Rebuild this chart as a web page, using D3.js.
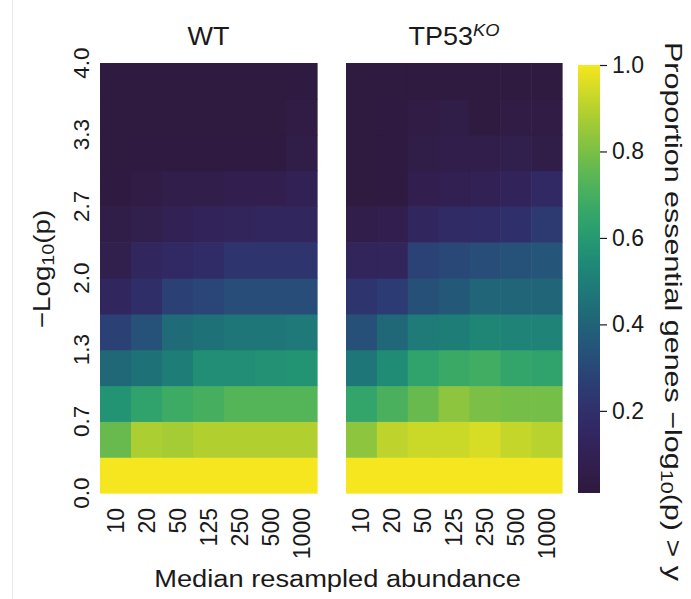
<!DOCTYPE html>
<html>
<head>
<meta charset="utf-8">
<script src="https://cdn.jsdelivr.net/npm/d3@7"></script>
<style>
  html, body { margin: 0; padding: 0; background: #fff; }
  svg { display: block; font-family: "Liberation Sans", Arial, sans-serif; }
</style>
</head>
<body>
<svg id="chart" width="691" height="599"></svg>
<script>
// ---------- data ----------
const abundances = ["10", "20", "50", "125", "250", "500", "1000"];
// row thresholds (-log10 p), bottom to top
const thresholds = [0, 1/3, 2/3, 1, 4/3, 5/3, 2, 7/3, 8/3, 3, 10/3, 11/3];
const yTickValues = [0, 2/3, 4/3, 2, 8/3, 10/3, 4];
const yTickLabels = ["0.0", "0.7", "1.3", "2.0", "2.7", "3.3", "4.0"];
const cbTicks = [0.2, 0.4, 0.6, 0.8, 1.0];
const panelTitles = ["WT", "TP53"];

// proportion values, rows bottom (threshold 0) to top; columns = abundances
const wtValues = [
  [1.00, 1.00, 1.00, 1.00, 1.00, 1.00, 1.00],
  [0.77, 0.88, 0.87, 0.89, 0.89, 0.89, 0.89],
  [0.58, 0.64, 0.68, 0.70, 0.73, 0.73, 0.73],
  [0.42, 0.45, 0.50, 0.56, 0.56, 0.57, 0.58],
  [0.27, 0.34, 0.43, 0.45, 0.47, 0.47, 0.48],
  [0.14, 0.19, 0.27, 0.29, 0.32, 0.32, 0.32],
  [0.07, 0.14, 0.16, 0.18, 0.22, 0.22, 0.22],
  [0.05, 0.07, 0.10, 0.12, 0.13, 0.14, 0.14],
  [0.03, 0.04, 0.06, 0.06, 0.08, 0.08, 0.10],
  [0.02, 0.03, 0.03, 0.03, 0.03, 0.03, 0.05],
  [0.02, 0.02, 0.02, 0.02, 0.02, 0.02, 0.04],
  [0.02, 0.02, 0.02, 0.02, 0.02, 0.02, 0.03]
];
const koValues = [
  [1.00, 1.00, 1.00, 1.00, 1.00, 1.00, 1.00],
  [0.83, 0.91, 0.93, 0.93, 0.95, 0.92, 0.90],
  [0.65, 0.71, 0.77, 0.83, 0.80, 0.79, 0.79],
  [0.47, 0.55, 0.64, 0.67, 0.69, 0.65, 0.64],
  [0.33, 0.42, 0.49, 0.50, 0.53, 0.52, 0.52],
  [0.22, 0.25, 0.33, 0.36, 0.41, 0.41, 0.41],
  [0.13, 0.13, 0.28, 0.30, 0.32, 0.34, 0.35],
  [0.06, 0.08, 0.14, 0.17, 0.18, 0.20, 0.24],
  [0.02, 0.03, 0.08, 0.09, 0.10, 0.12, 0.16],
  [0.02, 0.03, 0.05, 0.06, 0.06, 0.07, 0.05],
  [0.02, 0.03, 0.04, 0.05, 0.02, 0.04, 0.04],
  [0.02, 0.02, 0.02, 0.02, 0.02, 0.02, 0.02]
];

// ---------- colour map (viridis as it appears in the reference) ----------
const cmapStops = ["#2e1a3d", "#342158", "#2f306e", "#29497a", "#206578",
                   "#1d7f78", "#239b73", "#43b060", "#7bbf45", "#b8d22b", "#f6e61f"];
const interp = d3.interpolateRgbBasis(cmapStops);
const vmin = 0.01, vmax = 1.0;
const color = d3.scaleSequential(interp).domain([vmin, vmax]);

// ---------- layout ----------
const svg = d3.select("#chart");
const plotTop = 63, plotBottom = 493;
const panels = [
  { x0: 100, x1: 317, values: wtValues, title: panelTitles[0] },
  { x0: 346, x1: 562, values: koValues, title: panelTitles[1] }
];
const y = d3.scaleLinear().domain([0, 4]).range([plotBottom, plotTop]);
const step = 1 / 3;

// faint border line on left of the figure
svg.append("line").attr("x1", 12.5).attr("x2", 12.5).attr("y1", 0).attr("y2", 599)
  .attr("stroke", "#ececec").attr("stroke-width", 1);

panels.forEach((p, pi) => {
  const x = d3.scaleBand().domain(abundances).range([p.x0, p.x1]).padding(0);
  const g = svg.append("g");
  p.values.forEach((row, ri) => {
    row.forEach((v, ci) => {
      const t = thresholds[ri];
      g.append("rect")
        .attr("x", x(abundances[ci]))
        .attr("y", y(t + step))
        .attr("width", x.bandwidth() + 0.6)
        .attr("height", y(t) - y(t + step) + 0.6)
        .attr("fill", color(v));
    });
  });

  // x tick labels (rotated)
  abundances.forEach(a => {
    const cx = x(a) + x.bandwidth() / 2 + 8;
    svg.append("text")
      .attr("transform", `translate(${cx},508) rotate(-90)`)
      .attr("text-anchor", "end")
      .attr("font-size", 23)
      .attr("fill", "#1a1a1a")
      .text(a);
  });

  // title
  const tcx = (p.x0 + p.x1) / 2;
  const title = svg.append("text")
    .attr("transform", `translate(${tcx},45) scale(1.08,1)`)
    .attr("text-anchor", "middle")
    .attr("font-size", 25)
    .attr("fill", "#1a1a1a");
  title.append("tspan").text(p.title);
  if (pi === 1) {
    title.append("tspan").attr("font-size", 17).attr("font-style", "italic")
      .attr("dy", -9).text("KO");
  }
});

// y tick labels
yTickValues.forEach((v, i) => {
  svg.append("text")
    .attr("transform", `translate(89,${y(v)}) rotate(-90)`)
    .attr("text-anchor", "middle")
    .attr("font-size", 22.5)
    .attr("fill", "#1a1a1a")
    .text(yTickLabels[i]);
});

// y axis label
const yl = svg.append("text")
  .attr("transform", `translate(50,269) rotate(-90) scale(1.16,1)`)
  .attr("text-anchor", "middle")
  .attr("font-size", 24)
  .attr("fill", "#1a1a1a");
yl.append("tspan").text("\u2212Log");
yl.append("tspan").attr("font-size", 17).attr("dy", 4).text("10");
yl.append("tspan").attr("dy", -4).text("(p)");

// x axis label
svg.append("text")
  .attr("transform", `translate(337.5,587) scale(1.16,1)`)
  .attr("text-anchor", "middle")
  .attr("font-size", 23.5)
  .attr("fill", "#1a1a1a")
  .text("Median resampled abundance");

// ---------- colour bar ----------
const cbX = 578, cbW = 22, cbTop = 65, cbBottom = 493;
const cbY = d3.scaleLinear().domain([vmin, vmax]).range([cbBottom, cbTop]);
const defs = svg.append("defs");
const grad = defs.append("linearGradient").attr("id", "cbgrad")
  .attr("x1", 0).attr("y1", 1).attr("x2", 0).attr("y2", 0);
d3.range(0, 1.0001, 0.02).forEach(t => {
  grad.append("stop").attr("offset", t).attr("stop-color", interp(t));
});
svg.append("rect").attr("x", cbX).attr("y", cbTop).attr("width", cbW)
  .attr("height", cbBottom - cbTop).attr("fill", "url(#cbgrad)");

const cbAxis = d3.axisRight(cbY).tickValues(cbTicks).tickFormat(d3.format(".1f"))
  .tickSize(7).tickPadding(5);
const cbG = svg.append("g").attr("transform", `translate(${cbX + cbW},0)`).call(cbAxis);
cbG.select(".domain").remove();
cbG.selectAll(".tick line").attr("stroke", "#1a1a1a").attr("stroke-width", 1.2);
cbG.selectAll(".tick text").attr("font-size", 23).attr("fill", "#1a1a1a")
  .attr("font-family", "Liberation Sans, Arial, sans-serif");

// colour bar label
const cl = svg.append("text")
  .attr("transform", `translate(665,42) rotate(90) scale(1.27,1)`)
  .attr("text-anchor", "start")
  .attr("font-size", 24)
  .attr("fill", "#1a1a1a");
cl.append("tspan").text("Proportion essential genes \u2212log");
cl.append("tspan").attr("font-size", 17).attr("dy", 4).text("10");
cl.append("tspan").attr("dy", -4).text("(p) > y");
</script>
</body>
</html>
